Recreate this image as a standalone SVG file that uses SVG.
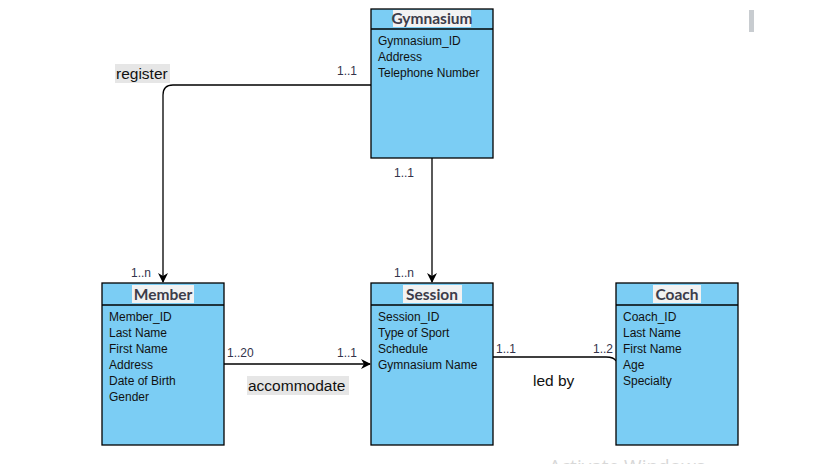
<svg xmlns="http://www.w3.org/2000/svg" width="819" height="464" viewBox="0 0 819 464">
<defs>
<style>
.box{fill:#7bcdf4;stroke:#000;stroke-width:1.3}
.sep{stroke:#000;stroke-width:1.3}
.title{font-family:Lato,"Open Sans","Liberation Sans",sans-serif;font-weight:bold;font-size:15.5px;fill:#3d3d4a;text-anchor:middle}
.hl{fill:#f2f2f2}
.attr{font-family:"Liberation Sans",Arial,sans-serif;font-size:12px;fill:#111}
.card{font-family:"Liberation Sans",Arial,sans-serif;font-size:12px;fill:#33334a}
.lbl{font-family:"Liberation Sans",Arial,sans-serif;font-size:15.5px;fill:#111}
.lblbg{fill:#e6e6e6}
.edge{fill:none;stroke:#000;stroke-width:1.3}
</style>
<marker id="arr" viewBox="0 0 10 10" refX="9" refY="5" markerWidth="10" markerHeight="10" markerUnits="userSpaceOnUse" orient="auto">
<path d="M0,0 L10,5 L0,10 L3,5 Z" fill="#000"/>
</marker>
</defs>
<rect width="819" height="464" fill="#fff"/>
<rect x="749" y="10" width="5" height="22" fill="#c8ccd0"/>

<g id="connectors">
<path class="edge" d="M371,85 H173 Q163,85 163,95 V282" marker-end="url(#arr)"/>
<path class="edge" d="M432,158 V282" marker-end="url(#arr)"/>
<path class="edge" d="M224,364 H370" marker-end="url(#arr)"/>
<path class="edge" d="M493,357 H606 Q614,357 616,361"/>
<rect class="lblbg" x="115" y="64" width="55" height="19"/>
<text class="lbl" x="116" y="79">register</text>
<text class="card" x="337" y="75">1..1</text>
<text class="card" x="131" y="277">1..n</text>
<text class="card" x="394" y="177">1..1</text>
<text class="card" x="394" y="277">1..n</text>
<text class="card" x="227" y="357">1..20</text>
<text class="card" x="337" y="357">1..1</text>
<rect class="lblbg" x="247" y="376" width="102" height="19"/>
<text class="lbl" x="248" y="391">accommodate</text>
<text class="card" x="496" y="353">1..1</text>
<text class="card" x="593" y="353">1..2</text>
<text class="lbl" x="533" y="386">led by</text>
</g>

<g id="gymnasium">
<rect class="box" x="371" y="9" width="122" height="149"/>
<line class="sep" x1="371" y1="29" x2="493" y2="29"/>
<rect class="hl" x="393" y="10" width="78" height="17"/>
<text class="title" x="432" y="24">Gymnasium</text>
<text class="attr" x="378" y="45">Gymnasium_ID</text>
<text class="attr" x="378" y="61">Address</text>
<text class="attr" x="378" y="77">Telephone Number</text>
</g>

<g id="member">
<rect class="box" x="102" y="283" width="122" height="162"/>
<line class="sep" x1="102" y1="305" x2="224" y2="305"/>
<rect class="hl" x="132" y="285" width="62" height="18"/>
<text class="title" x="163" y="300">Member</text>
<text class="attr" x="109" y="321">Member_ID</text>
<text class="attr" x="109" y="337">Last Name</text>
<text class="attr" x="109" y="353">First Name</text>
<text class="attr" x="109" y="369">Address</text>
<text class="attr" x="109" y="385">Date of Birth</text>
<text class="attr" x="109" y="401">Gender</text>
</g>

<g id="session">
<rect class="box" x="371" y="283" width="122" height="162"/>
<line class="sep" x1="371" y1="305" x2="493" y2="305"/>
<rect class="hl" x="403" y="285" width="59" height="18"/>
<text class="title" x="432" y="300">Session</text>
<text class="attr" x="378" y="321">Session_ID</text>
<text class="attr" x="378" y="337">Type of Sport</text>
<text class="attr" x="378" y="353">Schedule</text>
<text class="attr" x="378" y="369">Gymnasium Name</text>
</g>

<g id="coach">
<rect class="box" x="616" y="283" width="122" height="162"/>
<line class="sep" x1="616" y1="305" x2="738" y2="305"/>
<rect class="hl" x="653" y="285" width="48" height="18"/>
<text class="title" x="677" y="300">Coach</text>
<text class="attr" x="623" y="321">Coach_ID</text>
<text class="attr" x="623" y="337">Last Name</text>
<text class="attr" x="623" y="353">First Name</text>
<text class="attr" x="623" y="369">Age</text>
<text class="attr" x="623" y="385">Specialty</text>
</g>

<text x="549" y="473" font-family="'Open Sans','Liberation Sans',sans-serif" font-size="19" fill="#d8d8d8">Activate Windows</text>
</svg>
